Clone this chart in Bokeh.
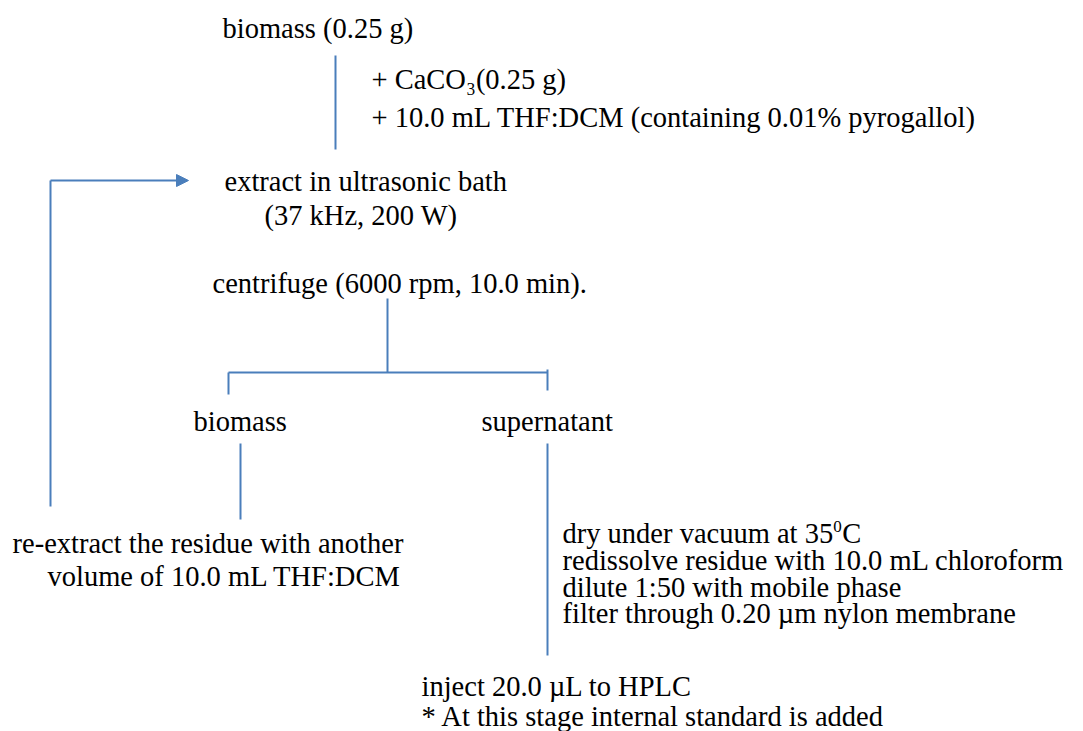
from bokeh.plotting import figure
from bokeh.models import Range1d, ColumnDataSource, Arrow, NormalHead
from bokeh.core.properties import value
from bokeh.embed import file_html
from bokeh.resources import INLINE

# ---- data: the flowchart texts ----
step_texts = [
    "biomass (0.25 g)",
    "+ CaCO\u2083(0.25 g)",
    "+ 10.0 mL THF:DCM (containing 0.01% pyrogallol)",
    "extract in ultrasonic bath",
    "(37 kHz, 200 W)",
    "centrifuge (6000 rpm, 10.0 min).",
    "biomass",
    "supernatant",
    "re-extract the residue with another",
    "volume of 10.0 mL THF:DCM",
    "dry under vacuum at 35",
    "redissolve residue with 10.0 mL chloroform",
    "dilute 1:50 with mobile phase",
    "filter through 0.20 \u00b5m nylon membrane",
    "inject 20.0 \u00b5L to HPLC",
    "* At this stage internal standard is added",
]
# pieces of "35⁰C": superscript 0 and the unit
sup_texts = ["0"]
unit_texts = ["C"]

# layout (page pixel coordinates)
text_x = [222, 371, 371, 224, 264, 212, 193, 481, 12, 47, 562, 562, 562, 562, 421, 421]
text_y = [28, 79, 117, 181, 215, 283, 421, 421, 543, 576, 533, 560, 587, 613, 686, 716]
FS = 28.5
sup_x = [562 + 9.498 * FS]
sup_y = [526]
unit_x = [562 + 9.498 * FS + 9]
unit_y = [533]

# connector segments (x0, y0, x1, y1)
seg_x0 = [335, 387, 228, 228, 547, 240, 547, 50]
seg_y0 = [55, 298, 372, 372, 369, 443, 443, 506]
seg_x1 = [335, 387, 547, 228, 547, 240, 547, 50]
seg_y1 = [149, 372, 372, 394, 390, 519, 655, 180]

LINE = "#4a7ebb"
W, H = 1083, 731

p = figure(width=W, height=H, output_backend="svg", toolbar_location=None,
           x_range=Range1d(0, W), y_range=Range1d(H, 0),
           min_border=0)
p.axis.visible = False
p.grid.visible = False
p.outline_line_color = None
p.background_fill_color = "white"
p.border_fill_color = "white"

p.segment(x0=seg_x0, y0=seg_y0, x1=seg_x1, y1=seg_y1, line_color=LINE, line_width=2)

p.add_layout(Arrow(end=NormalHead(size=12, fill_color=LINE, line_color=LINE, line_width=1),
                   x_start=50, y_start=180, x_end=188, y_end=180,
                   line_color=LINE, line_width=2))

font = value("Liberation Serif")
src = ColumnDataSource(dict(x=text_x, y=text_y, t=step_texts))
p.text(x="x", y="y", text="t", source=src, text_font=font,
       text_font_size=f"{FS}px", text_color="black", text_align="left",
       text_baseline="middle")
p.text(x=sup_x, y=sup_y, text=sup_texts, text_font=font,
       text_font_size="17px", text_color="black", text_align="left",
       text_baseline="middle")
p.text(x=unit_x, y=unit_y, text=unit_texts, text_font=font,
       text_font_size=f"{FS}px", text_color="black", text_align="left",
       text_baseline="middle")

open("out.html", "w").write(file_html(p, INLINE))
